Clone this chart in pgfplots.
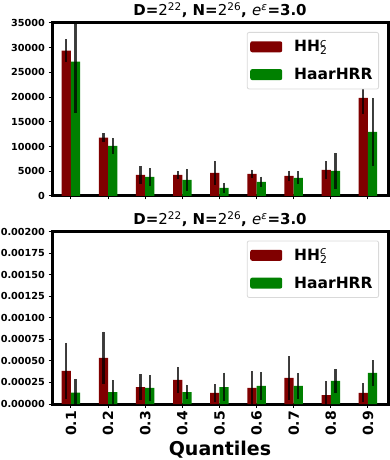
\documentclass[border=0pt]{standalone}
\usepackage{fontspec}
\setmainfont{DejaVu Sans}
\usepackage{pgfplots}
\pgfplotsset{compat=1.18}

\definecolor{hhred}{RGB}{128,0,0}
\definecolor{haargreen}{RGB}{0,128,0}

\newcommand\tickfont{\bfseries\fontsize{9.7}{11}\selectfont}
\newcommand\xtickfont{\bfseries\fontsize{14}{16}\selectfont}
\newcommand\titlefont{\bfseries\fontsize{15}{17}\selectfont}
\newcommand\legfont{\bfseries\fontsize{15.5}{17}\selectfont}
\newcommand\labfont{\bfseries\fontsize{19}{21}\selectfont}

\newcommand\ttl{D={\mdseries 2\textsuperscript{22}}, N={\mdseries 2\textsuperscript{26}}, {\mdseries\itshape e\textsuperscript{ε}}=3.0}
\newcommand\hhname{HH\rlap{\textsuperscript{\mdseries\itshape c}}\textsubscript{\mdseries 2}}

% top panel: x, value, error
\pgfplotstableread{
x y e
0 29400 2300
1 11820 900
2 4260 1750
3 4260 780
4 4660 2430
5 4460 850
6 4050 1050
7 5270 1790
8 19870 3200
}\topred
\pgfplotstableread{
x y e
0 27160 10300
1 10140 1620
2 3850 1860
3 3240 2260
4 1620 1050
5 2840 1080
6 3650 1320
7 5070 3650
8 12970 6860
}\topgreen
% bottom panel
\pgfplotstableread{
x y e
0 0.000383 0.000325
1 0.000534 0.000305
2 0.000197 0.000150
3 0.000279 0.000150
4 0.000128 0.000102
5 0.000186 0.000196
6 0.000302 0.000250
7 0.000104 0.000160
8 0.000128 0.000110
}\botred
\pgfplotstableread{
x y e
0 0.000132 0.000158
1 0.000139 0.000140
2 0.000186 0.000150
3 0.000139 0.000085
4 0.000197 0.000168
5 0.000209 0.000160
6 0.000209 0.000150
7 0.000267 0.000140
8 0.000360 0.000150
}\botgreen

\pgfplotsset{
  panel/.style={
    scale only axis, width=336pt,
    ybar, bar width=0.25,
    xmin=-0.51, xmax=8.54, ymin=0,
    xtick={0,...,8},
    tick pos=left, tick align=outside,
    major tick length=3.5pt,
    major tick style={line width=1pt, black},
    axis line style={line width=3pt},
    ticklabel style={/pgf/number format/assume math mode=true},
    yticklabel style={font=\tickfont},
    scaled y ticks=false,
    title=\ttl,
    title style={font=\titlefont, at={(0.5,1)}, anchor=base, yshift=1pt},
    legend style={at={(1,1)}, anchor=north east, xshift=-9pt, yshift=-9pt,
      draw=black!15, line width=0.8pt, rounded corners=2pt, fill=white,
      font=\legfont, inner xsep=3pt, inner ysep=5pt, row sep=9pt,
      nodes={inner sep=3pt}},
    legend cell align=left,
  },
  errs/.style={
    error bars/.cd, y dir=both, y explicit, error mark=none,
    error bar style={solid, line width=2.2pt, draw=black, draw opacity=0.75},
    /pgfplots/.cd},
  redpatch/.style={legend image code/.code={\fill[fill=hhred] (0pt,-5.5pt) rectangle (32pt,5.5pt); \path (41pt,0pt);}},
  greenpatch/.style={legend image code/.code={\fill[fill=haargreen] (0pt,-5.5pt) rectangle (32pt,5.5pt); \path (41pt,0pt);}},
}

\begin{document}
\begin{tikzpicture}
\useasboundingbox (0,0) rectangle (389pt,460pt);

\begin{axis}[panel, at={(52pt,264pt)}, anchor=south west, height=173pt,
  ymax=35000, ytick={0,5000,...,35000},
  yticklabel style={/pgf/number format/.cd, fixed, 1000 sep={}},
  xticklabels={}]
\addplot[fill=hhred, draw=none, bar shift=-0.125, redpatch, errs]
  table[x=x, y=y, y error=e] {\topred};
\addplot[fill=haargreen, draw=none, bar shift=0.125, greenpatch, errs]
  table[x=x, y=y, y error=e] {\topgreen};
\legend{\hhname, HaarHRR}
\end{axis}

\begin{axis}[panel, at={(52pt,56pt)}, anchor=south west, height=172.5pt,
  ymax=0.002,
  ytick={0,0.00025,0.0005,0.00075,0.001,0.00125,0.0015,0.00175,0.002},
  yticklabel style={/pgf/number format/.cd, fixed, fixed zerofill, precision=5},
  xticklabels={0.1,0.2,0.3,0.4,0.5,0.6,0.7,0.8,0.9},
  xticklabel style={font=\xtickfont, rotate=90, anchor=east},
  xlabel={Quantiles},
  xlabel style={font=\labfont, at={(0.5,0)}, anchor=base, yshift=-51pt}]
\addplot[fill=hhred, draw=none, bar shift=-0.125, redpatch, errs]
  table[x=x, y=y, y error=e] {\botred};
\addplot[fill=haargreen, draw=none, bar shift=0.125, greenpatch, errs]
  table[x=x, y=y, y error=e] {\botgreen};
\legend{\hhname, HaarHRR}
\end{axis}
\end{tikzpicture}
\end{document}
